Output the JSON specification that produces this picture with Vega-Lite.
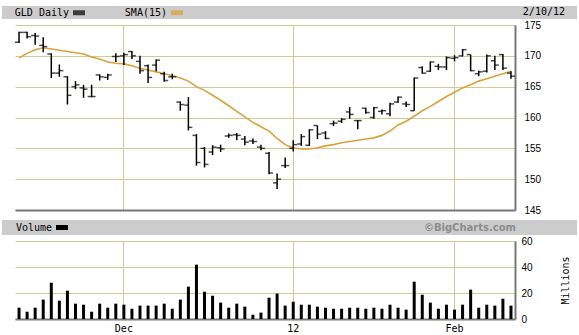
{
  "$schema": "https://vega.github.io/schema/vega-lite/v6.json",
  "padding": {"left": 2, "top": 4, "right": 0, "bottom": 0},
  "background": "white",
  "columns": 2,
  "spacing": {"row": 6, "column": 0},
  "bounds": "flush",
  "align": "each",
  "datasets": {
    "gld": [
      {"date": "2011-11-11", "open": 172.2, "high": 173.9, "low": 172.1, "close": 173.8, "sma": 169.7, "volume": 8.7},
      {"date": "2011-11-14", "open": 173.8, "high": 173.9, "low": 172.8, "close": 173.1, "sma": 170.4, "volume": 5.6},
      {"date": "2011-11-15", "open": 173.3, "high": 173.7, "low": 171.8, "close": 173.2, "sma": 171.0, "volume": 8.7},
      {"date": "2011-11-16", "open": 171.7, "high": 173.0, "low": 170.6, "close": 171.5, "sma": 171.3, "volume": 14.9},
      {"date": "2011-11-17", "open": 170.3, "high": 170.4, "low": 166.4, "close": 167.2, "sma": 171.1, "volume": 27.9},
      {"date": "2011-11-18", "open": 167.2, "high": 168.6, "low": 166.6, "close": 167.6, "sma": 170.9, "volume": 14.1},
      {"date": "2011-11-21", "open": 166.6, "high": 166.7, "low": 162.1, "close": 163.6, "sma": 170.7, "volume": 21.8},
      {"date": "2011-11-22", "open": 165.0, "high": 165.9, "low": 164.6, "close": 165.3, "sma": 170.5, "volume": 11.8},
      {"date": "2011-11-23", "open": 164.8, "high": 165.3, "low": 163.2, "close": 164.6, "sma": 170.3, "volume": 11.0},
      {"date": "2011-11-25", "open": 163.4, "high": 165.3, "low": 163.3, "close": 163.4, "sma": 169.8, "volume": 5.6},
      {"date": "2011-11-28", "open": 166.9, "high": 167.0, "low": 166.0, "close": 166.6, "sma": 169.5, "volume": 11.8},
      {"date": "2011-11-29", "open": 166.5, "high": 167.1, "low": 166.1, "close": 166.9, "sma": 169.0, "volume": 8.7},
      {"date": "2011-11-30", "open": 169.9, "high": 170.4, "low": 169.0, "close": 169.9, "sma": 168.8, "volume": 11.8},
      {"date": "2011-12-01", "open": 170.0, "high": 170.5, "low": 168.5, "close": 170.2, "sma": 168.7, "volume": 11.0},
      {"date": "2011-12-02", "open": 170.7, "high": 170.8, "low": 169.5, "close": 170.0, "sma": 168.4, "volume": 7.9},
      {"date": "2011-12-05", "open": 169.1, "high": 170.0, "low": 167.1, "close": 167.6, "sma": 168.0, "volume": 10.3},
      {"date": "2011-12-06", "open": 168.4, "high": 168.6, "low": 165.6, "close": 166.5, "sma": 167.7, "volume": 10.3},
      {"date": "2011-12-07", "open": 168.5, "high": 169.4, "low": 167.5, "close": 169.3, "sma": 167.4, "volume": 10.3},
      {"date": "2011-12-08", "open": 167.1, "high": 167.4, "low": 165.8, "close": 166.0, "sma": 167.1, "volume": 11.8},
      {"date": "2011-12-09", "open": 166.6, "high": 167.1, "low": 166.2, "close": 166.6, "sma": 166.8, "volume": 7.9},
      {"date": "2011-12-12", "open": 162.5, "high": 162.6, "low": 161.1, "close": 162.1, "sma": 166.4, "volume": 14.9},
      {"date": "2011-12-13", "open": 162.0, "high": 163.3, "low": 157.9, "close": 158.4, "sma": 165.9, "volume": 24.9},
      {"date": "2011-12-14", "open": 157.1, "high": 157.3, "low": 152.2, "close": 152.7, "sma": 165.0, "volume": 41.8},
      {"date": "2011-12-15", "open": 155.0, "high": 155.2, "low": 151.9, "close": 152.4, "sma": 164.4, "volume": 21.0},
      {"date": "2011-12-16", "open": 154.4, "high": 155.5, "low": 153.9, "close": 155.2, "sma": 163.6, "volume": 17.9},
      {"date": "2011-12-19", "open": 155.1, "high": 155.6, "low": 154.4, "close": 154.9, "sma": 162.8, "volume": 12.6},
      {"date": "2011-12-20", "open": 157.0, "high": 157.4, "low": 156.7, "close": 157.1, "sma": 161.9, "volume": 8.7},
      {"date": "2011-12-21", "open": 157.2, "high": 157.5, "low": 156.3, "close": 157.1, "sma": 161.0, "volume": 11.8},
      {"date": "2011-12-22", "open": 156.5, "high": 157.0, "low": 155.5, "close": 156.0, "sma": 160.1, "volume": 9.5},
      {"date": "2011-12-23", "open": 156.2, "high": 156.6, "low": 155.7, "close": 156.1, "sma": 159.2, "volume": 3.3},
      {"date": "2011-12-27", "open": 155.2, "high": 155.6, "low": 154.7, "close": 155.0, "sma": 158.5, "volume": 4.9},
      {"date": "2011-12-28", "open": 154.2, "high": 154.4, "low": 150.8, "close": 151.0, "sma": 157.8, "volume": 16.4},
      {"date": "2011-12-29", "open": 149.4, "high": 150.9, "low": 148.4, "close": 150.0, "sma": 156.6, "volume": 19.5},
      {"date": "2011-12-30", "open": 152.2, "high": 153.5, "low": 151.8, "close": 152.2, "sma": 155.6, "volume": 10.3},
      {"date": "2012-01-03", "open": 155.0, "high": 156.3, "low": 154.5, "close": 155.6, "sma": 155.1, "volume": 13.3},
      {"date": "2012-01-04", "open": 155.7, "high": 157.3, "low": 155.4, "close": 156.9, "sma": 154.9, "volume": 11.0},
      {"date": "2012-01-05", "open": 155.5, "high": 158.1, "low": 155.4, "close": 158.0, "sma": 154.9, "volume": 11.0},
      {"date": "2012-01-06", "open": 158.7, "high": 158.7, "low": 156.5, "close": 157.3, "sma": 155.1, "volume": 9.5},
      {"date": "2012-01-09", "open": 157.5, "high": 157.8, "low": 156.5, "close": 156.6, "sma": 155.4, "volume": 8.7},
      {"date": "2012-01-10", "open": 159.0, "high": 159.5, "low": 158.6, "close": 159.1, "sma": 155.6, "volume": 7.9},
      {"date": "2012-01-11", "open": 159.4, "high": 159.9, "low": 159.1, "close": 159.7, "sma": 155.9, "volume": 7.9},
      {"date": "2012-01-12", "open": 160.9, "high": 161.7, "low": 159.8, "close": 160.5, "sma": 156.1, "volume": 8.7},
      {"date": "2012-01-13", "open": 159.5, "high": 159.6, "low": 158.1, "close": 159.5, "sma": 156.3, "volume": 8.7},
      {"date": "2012-01-17", "open": 161.5, "high": 161.6, "low": 160.6, "close": 160.8, "sma": 156.5, "volume": 7.9},
      {"date": "2012-01-18", "open": 160.0, "high": 161.7, "low": 159.8, "close": 161.6, "sma": 156.7, "volume": 8.7},
      {"date": "2012-01-19", "open": 161.0, "high": 161.3, "low": 160.5, "close": 161.1, "sma": 157.1, "volume": 7.9},
      {"date": "2012-01-20", "open": 160.6, "high": 162.4, "low": 160.2, "close": 162.2, "sma": 157.8, "volume": 11.0},
      {"date": "2012-01-23", "open": 162.5, "high": 163.4, "low": 162.4, "close": 163.3, "sma": 158.8, "volume": 8.7},
      {"date": "2012-01-24", "open": 162.2, "high": 162.6, "low": 161.7, "close": 162.1, "sma": 159.4, "volume": 7.2},
      {"date": "2012-01-25", "open": 161.1, "high": 166.5, "low": 161.1, "close": 166.4, "sma": 160.2, "volume": 28.7},
      {"date": "2012-01-26", "open": 168.1, "high": 168.3, "low": 167.1, "close": 167.2, "sma": 161.1, "volume": 18.7},
      {"date": "2012-01-27", "open": 167.5, "high": 169.1, "low": 167.4, "close": 169.0, "sma": 161.8, "volume": 12.6},
      {"date": "2012-01-30", "open": 168.3, "high": 168.7, "low": 167.7, "close": 168.2, "sma": 162.6, "volume": 7.9},
      {"date": "2012-01-31", "open": 168.2, "high": 169.9, "low": 167.7, "close": 169.7, "sma": 163.4, "volume": 11.0},
      {"date": "2012-02-01", "open": 169.6, "high": 170.1, "low": 169.1, "close": 169.7, "sma": 164.1, "volume": 7.2},
      {"date": "2012-02-02", "open": 170.0, "high": 171.1, "low": 169.9, "close": 171.0, "sma": 164.8, "volume": 11.0},
      {"date": "2012-02-03", "open": 170.2, "high": 170.2, "low": 167.5, "close": 167.6, "sma": 165.3, "volume": 22.6},
      {"date": "2012-02-06", "open": 167.1, "high": 167.6, "low": 166.7, "close": 167.4, "sma": 165.9, "volume": 8.7},
      {"date": "2012-02-07", "open": 167.5, "high": 170.2, "low": 167.3, "close": 170.0, "sma": 166.3, "volume": 11.0},
      {"date": "2012-02-08", "open": 169.2, "high": 170.0, "low": 167.7, "close": 168.5, "sma": 166.7, "volume": 10.3},
      {"date": "2012-02-09", "open": 170.2, "high": 170.3, "low": 167.7, "close": 168.0, "sma": 167.1, "volume": 15.6},
      {"date": "2012-02-10", "open": 167.2, "high": 167.5, "low": 166.3, "close": 166.7, "sma": 167.5, "volume": 10.3}
    ]
  },
  "concat": [
    {
      "width": 13, "height": 13,
      "view": {"fill": "#cccccc", "stroke": null},
      "data": {"values": []},
      "mark": "rect",
      "encoding": {}
    },
    {
      "width": 562, "height": 13,
      "view": {"fill": "#cccccc", "stroke": null},
      "title": {"text": "2/10/12", "anchor": "end", "frame": "group", "offset": -10, "dx": -12, "dy": 9, "baseline": "alphabetic", "font": "DejaVu Sans Mono", "fontSize": 10, "fontWeight": "normal", "color": "#000000"},
      "data": {"values": []},
      "mark": "rect",
      "encoding": {}
    },
    {
      "width": 13, "height": 189,
      "data": {"values": []},
      "mark": "rect",
      "encoding": {}
    },
    {
      "width": 500, "height": 185,
      "data": {"name": "gld"},
      "encoding": {
        "x": {
          "field": "date", "type": "ordinal", "sort": null,
          "scale": {"paddingInner": 0, "paddingOuter": 0},
          "axis": {"values": ["2011-12-01", "2012-01-03", "2012-02-01"], "labels": false, "ticks": false, "domain": true, "domainColor": "#777777", "domainWidth": 2, "grid": true, "gridColor": "#cccc99", "gridWidth": 1, "title": null, "bandPosition": 0.5}
        }
      },
      "layer": [
        {
          "mark": {"type": "line", "strokeWidth": 1.6},
          "encoding": {
            "y": {"field": "sma", "type": "quantitative", "scale": {"domain": [145, 175], "zero": false, "nice": false},
              "axis": {"orient": "right", "values": [145, 150, 155, 160, 165, 170, 175], "labelOverlap": false, "labelBound": false, "labelSeparation": 0, "ticks": false, "labelPadding": 9, "domain": true, "domainColor": "#777777", "domainWidth": 2, "grid": true, "gridColor": "#cccc99", "gridWidth": 1, "title": null}},
            "color": {"datum": "SMA(15)", "type": "nominal",
              "scale": {"domain": ["GLD Daily", "SMA(15)"], "range": ["#000000", "#dca03c"]},
              "legend": {"orient": "none", "legendX": 55.5, "legendY": -21, "direction": "horizontal", "title": null, "padding": 0, "labelAlign": "right", "labelOffset": -18.5, "symbolType": "stroke", "symbolSize": 144, "symbolStrokeWidth": 5, "columnPadding": 29}}
          }
        },
        {
          "mark": {"type": "rule", "strokeWidth": 1.5},
          "encoding": {
            "y": {"field": "low", "type": "quantitative", "axis": {"orient": "right", "values": [145, 150, 155, 160, 165, 170, 175], "labelOverlap": false, "title": null}},
            "y2": {"field": "high"},
            "color": {"datum": "GLD Daily", "type": "nominal"}
          }
        },
        {
          "mark": {"type": "tick", "orient": "horizontal", "size": 4, "thickness": 1.5, "xOffset": -2},
          "encoding": {
            "y": {"field": "open", "type": "quantitative", "axis": {"orient": "right", "values": [145, 150, 155, 160, 165, 170, 175], "labelOverlap": false, "title": null}},
            "color": {"datum": "GLD Daily", "type": "nominal"}
          }
        },
        {
          "mark": {"type": "tick", "orient": "horizontal", "size": 4, "thickness": 1.5, "xOffset": 2},
          "encoding": {
            "y": {"field": "close", "type": "quantitative", "axis": {"orient": "right", "values": [145, 150, 155, 160, 165, 170, 175], "labelOverlap": false, "title": null}},
            "color": {"datum": "GLD Daily", "type": "nominal"}
          }
        }
      ]
    },
    {
      "width": 13, "height": 15,
      "view": {"fill": "#cccccc", "stroke": null},
      "data": {"values": []},
      "mark": "rect",
      "encoding": {}
    },
    {
      "width": 562, "height": 15,
      "view": {"fill": "#cccccc", "stroke": null},
      "title": {"text": "©BigCharts.com", "anchor": "end", "frame": "group", "offset": -11, "dx": -61, "dy": 10, "baseline": "alphabetic", "font": "DejaVu Sans", "fontSize": 10, "fontWeight": "bold", "color": "#8c8c8c"},
      "data": {"values": []},
      "mark": "rect",
      "encoding": {}
    },
    {
      "width": 13, "height": 78,
      "data": {"values": []},
      "mark": "rect",
      "encoding": {}
    },
    {
      "width": 500, "height": 78,
      "data": {"name": "gld"},
      "mark": {"type": "bar", "size": 3},
      "encoding": {
        "x": {
          "field": "date", "type": "ordinal", "sort": null,
          "scale": {"paddingInner": 0, "paddingOuter": 0},
          "axis": {"values": ["2011-12-01", "2012-01-03", "2012-02-01"], "labelExpr": "datum.value == '2011-12-01' ? 'Dec' : datum.value == '2012-01-03' ? '12' : 'Feb'", "labelAngle": 0, "labelFont": "DejaVu Sans Mono", "labelFontSize": 10, "labelColor": "#000000", "labelPadding": 4, "ticks": false, "domain": true, "domainColor": "#777777", "domainWidth": 2, "grid": true, "gridColor": "#cccc99", "gridWidth": 1, "title": null, "bandPosition": 0.5}
        },
        "y": {
          "field": "volume", "type": "quantitative", "scale": {"domain": [0, 60], "nice": false},
          "axis": {"orient": "right", "values": [0, 20, 40, 60], "labelOverlap": false, "ticks": false, "labelPadding": 6, "domain": true, "domainColor": "#777777", "domainWidth": 2, "grid": true, "gridColor": "#cccc99", "gridWidth": 1, "title": "Millions", "titleAngle": 270, "titleFont": "DejaVu Sans Mono", "titleFontSize": 10, "titleFontWeight": "normal", "titleColor": "#000000", "titlePadding": 38}
        },
        "color": {"datum": "Volume", "type": "nominal",
          "scale": {"domain": ["Volume"], "range": ["#000000"]},
          "legend": {"orient": "none", "legendX": 38.5, "legendY": -22, "direction": "horizontal", "title": null, "padding": 0, "labelAlign": "right", "labelOffset": -18.5, "symbolType": "stroke", "symbolSize": 144, "symbolStrokeWidth": 5, "symbolStrokeColor": "#000000"}}
      }
    }
  ],
  "resolve": {
    "scale": {"x": "independent", "y": "independent", "color": "independent"},
    "legend": {"color": "independent"}
  },
  "config": {
    "view": {"stroke": null},
    "axis": {"labelFont": "Liberation Sans", "labelFontSize": 10, "labelColor": "#000000", "labelOverlap": false},
    "legend": {"labelFont": "DejaVu Sans Mono", "labelFontSize": 10, "labelColor": "#000000"}
  }
}
